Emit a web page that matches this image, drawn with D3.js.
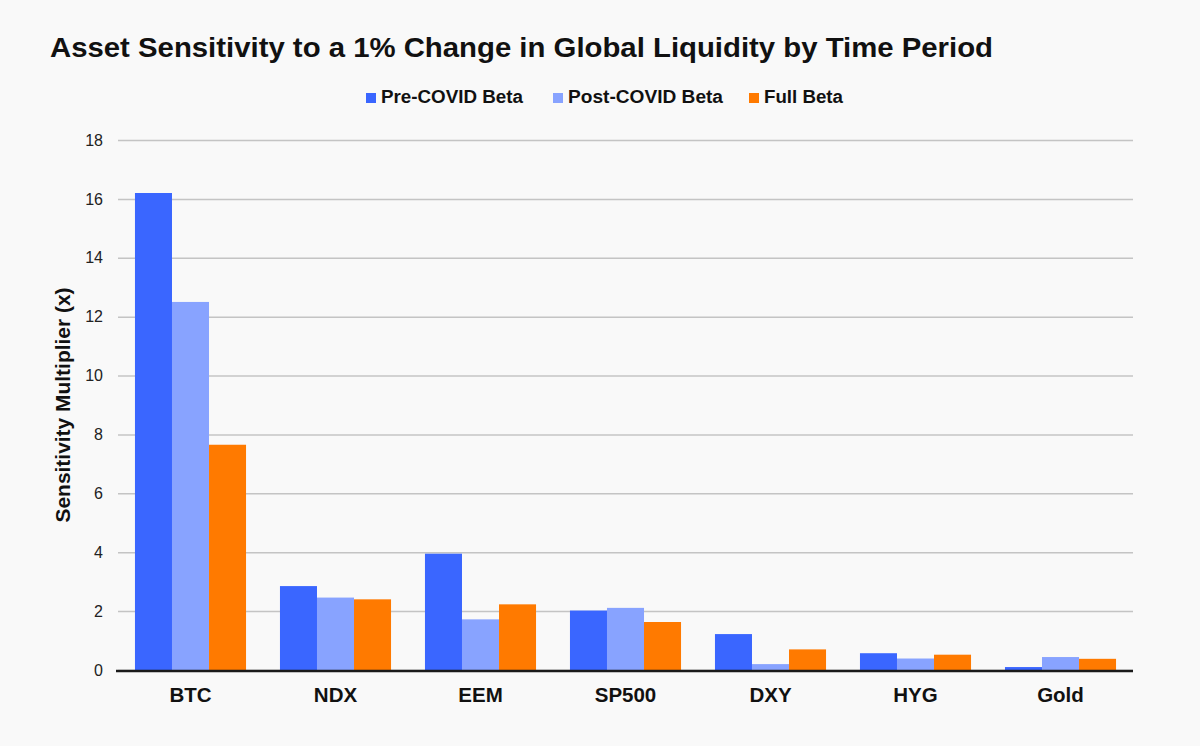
<!DOCTYPE html>
<html><head><meta charset="utf-8">
<script src="https://cdn.jsdelivr.net/npm/d3@7"></script>
<style>
html,body{margin:0;padding:0;background:#f9f9f9;}
svg{display:block;font-family:"Liberation Sans",Arial,sans-serif;}
</style></head>
<body>
<svg id="chart" width="1200" height="746"></svg>
<script>
const categories = ["BTC","NDX","EEM","SP500","DXY","HYG","Gold"];
const seriesNames = ["Pre-COVID Beta","Post-COVID Beta","Full Beta"];
const preCovid  = [16.2, 2.85, 3.95, 2.02, 1.22, 0.57, 0.10];
const postCovid = [12.5, 2.46, 1.72, 2.11, 0.20, 0.39, 0.44];
const fullBeta  = [7.65, 2.40, 2.23, 1.63, 0.70, 0.52, 0.38];
const yTicks = [0,2,4,6,8,10,12,14,16,18];
const colors = ["#3a66ff","#88a3ff","#ff7a00"];

(function(){
const series = [preCovid, postCovid, fullBeta];
const svg = d3.select("#chart");
svg.append("rect").attr("width",1200).attr("height",746).attr("fill","#f9f9f9");
const FF = "Liberation Sans, Arial, sans-serif";

const pL = 118, pR = 1133, pT = 140, pB = 670;
const x0 = d3.scaleBand().domain(categories).range([pL,pR]).paddingInner(0.234).paddingOuter(0.117);
const x1 = d3.scaleBand().domain(seriesNames).range([0,x0.bandwidth()]);
const y = d3.scaleLinear().domain([0,18]).range([pB,pT]);

const yAxis = d3.axisLeft(y).tickValues(yTicks).tickSize(-(pR-pL)).tickPadding(15);
const gy = svg.append("g").attr("transform",`translate(${pL},0)`).call(yAxis);
gy.select(".domain").remove();
gy.selectAll(".tick line").attr("stroke","#c4c4c4").attr("stroke-width",1.5);
gy.selectAll(".tick text").attr("font-size",16).attr("fill","#222").attr("font-family",FF);

const rows = categories.map((c,i)=>({cat:c, vals: seriesNames.map((s,j)=>({s, v: series[j][i], j}))}));
const g = svg.append("g");
g.selectAll("g.grp").data(rows).join("g").attr("class","grp")
  .attr("transform",d=>`translate(${x0(d.cat)},0)`)
  .selectAll("rect").data(d=>d.vals).join("rect")
  .attr("x",d=>x1(d.s)).attr("width",x1.bandwidth())
  .attr("y",d=>y(d.v)).attr("height",d=>y(0)-y(d.v))
  .attr("fill",d=>colors[d.j]);

const xAxis = d3.axisBottom(x0).tickSize(0).tickPadding(17);
const gx = svg.append("g").attr("transform",`translate(0,${pB})`).call(xAxis);
gx.select(".domain").remove();
gx.selectAll(".tick text").attr("font-size",20.5).attr("font-weight","bold").attr("fill","#111").attr("font-family",FF);
svg.append("line").attr("x1",pL-2).attr("x2",pR).attr("y1",y(0)+1).attr("y2",y(0)+1)
  .attr("stroke","#1a1a1a").attr("stroke-width",2.5);

const yl = svg.append("text").attr("transform",`translate(70,${(pT+pB)/2}) rotate(-90)`)
  .attr("text-anchor","middle").attr("font-size",19.5).attr("font-weight","bold").attr("fill","#111")
  .attr("textLength",235).attr("lengthAdjust","spacingAndGlyphs")
  .text("Sensitivity Multiplier (x)");

svg.append("text").attr("x",50).attr("y",57).attr("font-size",28).attr("font-weight","bold")
  .attr("fill","#111").attr("textLength",943).attr("lengthAdjust","spacingAndGlyphs")
  .text("Asset Sensitivity to a 1% Change in Global Liquidity by Time Period");

const legX = [366, 553, 749];
const legW = [142, 155, 79];
const leg = svg.append("g");
seriesNames.forEach((s,i)=>{
  leg.append("rect").attr("x",legX[i]).attr("y",93).attr("width",10).attr("height",10).attr("fill",colors[i]);
  leg.append("text").attr("x",legX[i]+15).attr("y",103).attr("font-size",18).attr("font-weight","bold")
    .attr("fill","#111").attr("textLength",legW[i]).attr("lengthAdjust","spacingAndGlyphs").text(s);
});
})();
</script>
</body></html>
